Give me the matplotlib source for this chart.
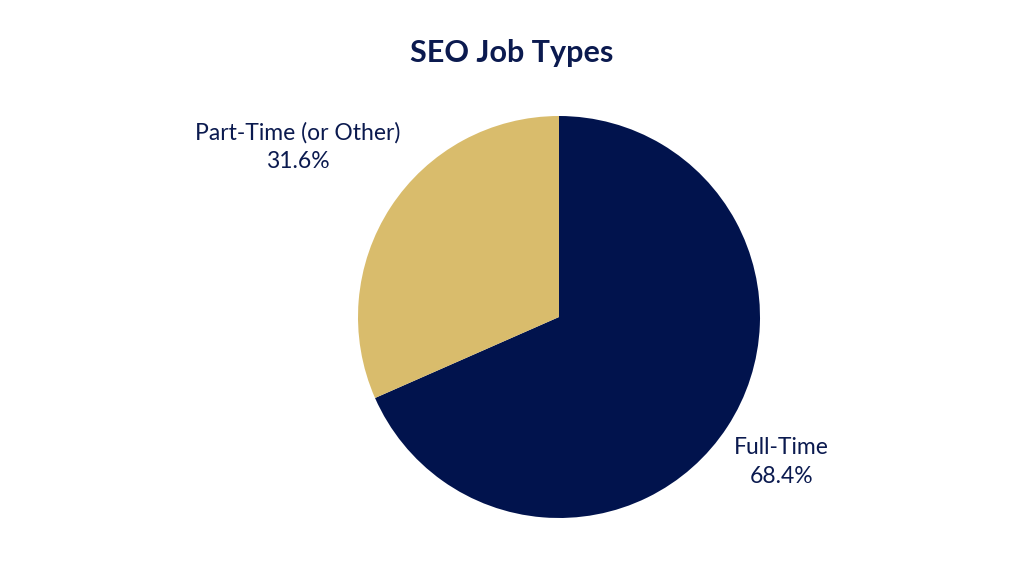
import matplotlib
matplotlib.use("Agg")
from matplotlib import pyplot as plt
import numpy as np

categories = ["Full-Time", "Part-Time (or Other)"]
shares = [68.4, 31.6]
colors = ["#01134D", "#D9BC6C"]
label_dist = [1.32, 1.55]

NAVY = "#0B1A4F"


def main():
    plt.rcParams['font.family'] = ['Lato', 'DejaVu Sans']
    fig = plt.figure(figsize=(10.24, 5.76), dpi=100)
    fig.patch.set_facecolor("white")

    # pie centre ~ (559, 317) px, radius ~201 px
    r = 201
    ax = fig.add_axes([(559 - r) / 1024, (576 - 317 - r) / 576, 2 * r / 1024, 2 * r / 576])
    wedges, _ = ax.pie(shares, colors=colors, startangle=90, counterclock=False,
                       wedgeprops=dict(linewidth=0))
    ax.set_xlim(-1, 1)
    ax.set_ylim(-1, 1)
    ax.set_aspect("equal")

    for w, cat, val, d in zip(wedges, categories, shares, label_dist):
        ang = np.deg2rad((w.theta1 + w.theta2) / 2)
        ax.text(d * np.cos(ang), d * np.sin(ang), f"{cat}\n{val}%",
                ha="center", va="center", fontsize=16.5, color=NAVY,
                linespacing=1.42, clip_on=False)

    fig.text(0.5, 1 - 53 / 576, "SEO Job Types", ha="center", va="center",
             fontsize=22, fontweight="bold", color=NAVY)

    fig.savefig("out.png", dpi=100, facecolor="white")


if __name__ == "__main__":
    main()
